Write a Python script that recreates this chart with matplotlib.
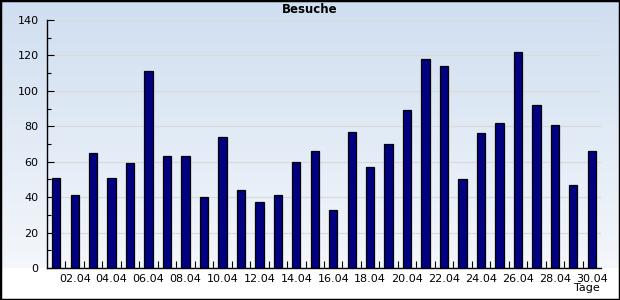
import numpy as np
import matplotlib
matplotlib.use("Agg")
import matplotlib.pyplot as plt
from matplotlib.colors import LinearSegmentedColormap

tage = ["%02d.04" % d for d in range(1, 31)]
besuche = [51, 41, 65, 51, 59, 111, 63, 63, 40, 74,
           44, 37, 41, 60, 66, 33, 77, 57, 70, 89,
           118, 114, 50, 76, 82, 122, 92, 81, 47, 66]

fig = plt.figure(figsize=(6.2, 3.0), dpi=100)
fig.patch.set_facecolor("white")

# hintergrund verlauf
bg = fig.add_axes([0, 0.107, 1, 0.893])
bg.set_axis_off()
verlauf = LinearSegmentedColormap.from_list("v", ["#f4f7fb", "#cfdef0"])
bg.imshow(np.linspace(0, 1, 256).reshape(-1, 1), aspect="auto", cmap=verlauf,
          origin="lower", extent=[0, 1, 0, 1])
bg.set_xlim(0, 1)
bg.set_ylim(0, 1)

ax = fig.add_axes([47/620, 32/300, 554/620, 248/300])
ax.patch.set_alpha(0)
x = np.arange(1, len(besuche) + 1)
ax.bar(x, besuche, width=0.45, color="#000080", edgecolor="black", linewidth=0.9, zorder=3)

ax.set_xlim(0.5, 30.5)
ax.set_ylim(0, 140)
ax.set_yticks(range(0, 141, 20))
ax.set_yticks(range(10, 141, 20), minor=True)
ax.set_xticks(x[1::2])
ax.set_xticklabels(tage[1::2])
ax.set_xticks(np.arange(1.5, 30.5, 1), minor=True)
ax.tick_params(axis="x", which="major", length=0, labelsize=8, pad=4)
ax.tick_params(axis="x", which="minor", direction="in", length=5, width=0.8)
ax.tick_params(axis="y", which="major", direction="in", length=5, width=0.8, labelsize=8, pad=6)
ax.tick_params(axis="y", which="minor", direction="in", length=3, width=0.8)
ax.grid(axis="y", which="major", color="#dadada", linewidth=0.9, zorder=0)
for s in ["top", "right"]:
    ax.spines[s].set_visible(False)
ax.spines["left"].set_linewidth(1)
ax.spines["bottom"].set_linewidth(1)

fig.text(0.5, 0.968, "Besuche", ha="center", va="center", fontsize=8.5, fontweight="bold")
fig.text(0.968, 0.04, "Tage", ha="right", va="center", fontsize=8)

rahmen = plt.Rectangle((0, 0), 1, 1, transform=fig.transFigure, fill=False,
                       edgecolor="black", linewidth=2.5)
fig.patches.append(rahmen)

fig.savefig("out.png", dpi=100)
